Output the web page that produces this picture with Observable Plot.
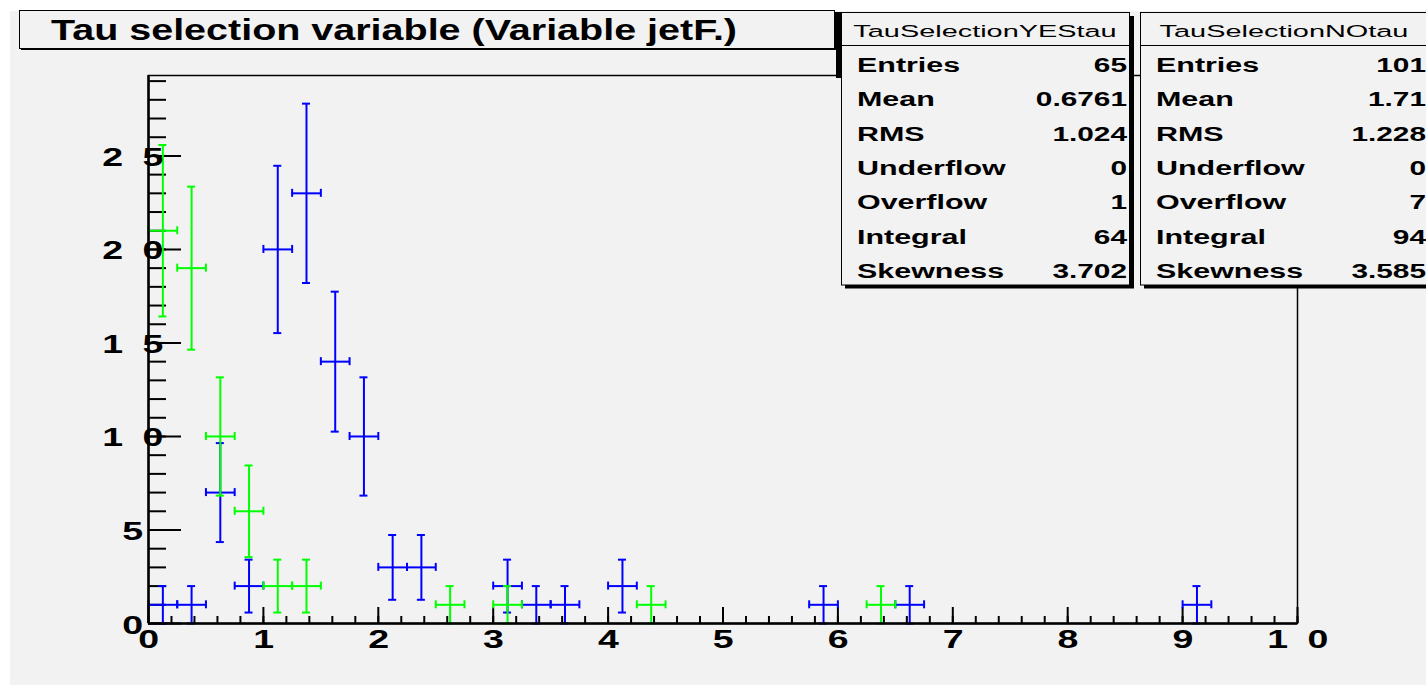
<!DOCTYPE html>
<html><head><meta charset="utf-8">
<script src="https://cdn.jsdelivr.net/npm/d3@7"></script>
<script src="https://cdn.jsdelivr.net/npm/@observablehq/plot@0.6"></script>
<style>
html,body{margin:0;padding:0;background:#fff;overflow:hidden;}
#chart svg{display:block;}
</style></head><body><div id="chart"></div>
<script>
// ---- data ----
const binWidth = 0.25;
const noTauX      = [0.125,0.375,0.625,0.875,1.125,1.375,1.625,1.875,2.125,2.375,3.125,3.375,3.625,4.125,5.875,6.625,9.125];
const noTauCounts = [1,1,7,2,20,23,14,10,3,3,2,1,1,2,1,1,1];
const yesTauX      = [0.125,0.375,0.625,0.875,1.125,1.375,2.625,3.125,4.375,6.375];
const yesTauCounts = [21,19,10,6,2,2,1,1,1,1];
const xMajorTicks = [0,1,2,3,4,5,6,7,8,9,10];
const yMajorTicks = [0,5,10,15,20,25];
const xMinorTicks = d3.range(0, 10.001, 0.2);
const yMinorTicks = d3.range(0, 30, 1);
const yMax = 29.3;
const titleText = "Tau selection variable (Variable jetF.)";
const statLabels = ["Entries","Mean","RMS","Underflow","Overflow","Integral","Skewness"];
const yesName = "TauSelectionYEStau";
const yesStats = ["65","0.6761","1.024","0","1","64","3.702"];
const noName = "TauSelectionNOtau";
const noStats = ["101","1.71","1.228","0","7","94","3.585"];

const FONT = '"Liberation Sans", Arial, Helvetica, sans-serif';
const BLUE = "#0000ff", GREEN = "#00ff00", BG = "#f2f2f2";

const toRecords = (xs, ns) => xs.map((x, i) => ({x, n: ns[i], e: Math.sqrt(ns[i])}));
const noData = toRecords(noTauX, noTauCounts);
const yesData = toRecords(yesTauX, yesTauCounts);

function errorMarks(data, color) {
  const hw = binWidth / 2;
  const vcaps = data.flatMap(d => [{x: d.x, y: d.n - d.e}, {x: d.x, y: d.n + d.e}]);
  const hcaps = data.flatMap(d => [{x: d.x - hw, y: d.n}, {x: d.x + hw, y: d.n}]);
  const s = {stroke: color, strokeWidth: 2};
  return [
    Plot.ruleX(data, {x: "x", y1: d => d.n - d.e, y2: d => d.n + d.e, ...s}),
    Plot.ruleY(data, {y: "n", x1: d => d.x - hw, x2: d => d.x + hw, ...s}),
    Plot.ruleY(vcaps, {y: "y", x1: "x", x2: "x", insetLeft: -4, insetRight: -4, ...s}),
    Plot.ruleX(hcaps, {x: "x", y1: "y", y2: "y", insetTop: -4, insetBottom: -4, ...s})
  ];
}

const chart = Plot.plot({
  width: 1426, height: 685,
  marginLeft: 148, marginRight: 129, marginTop: 75, marginBottom: 62,
  style: {background: "transparent", fontFamily: FONT},
  x: {domain: [0, 10], axis: null},
  y: {domain: [0, yMax], axis: null},
  marks: [
    Plot.ruleY(yMinorTicks, {y: d => d, x1: 0, x2: 0, insetRight: -18, stroke: "black", strokeWidth: 2}),
    Plot.ruleY(yMajorTicks, {y: d => d, x1: 0, x2: 0, insetRight: -33, stroke: "black", strokeWidth: 2}),
    Plot.ruleX(xMinorTicks, {x: d => d, y1: 0, y2: 0, insetTop: -7, stroke: "black", strokeWidth: 2}),
    Plot.ruleX(xMajorTicks, {x: d => d, y1: 0, y2: 0, insetTop: -16, stroke: "black", strokeWidth: 2}),
    ...errorMarks(noData, BLUE),
    ...errorMarks(yesData, GREEN),
    Plot.frame({stroke: "black", strokeWidth: 1.5}),
    Plot.ruleX([0], {stroke: "black", strokeWidth: 2.5}),
    Plot.ruleY([0], {stroke: "black", strokeWidth: 2.5}),
    Plot.text(yMajorTicks, {y: d => d, frameAnchor: "left", dx: -6, dy: 2, text: d => String(d),
      textAnchor: "middle", fontSize: 25, fontWeight: "bold", fill: "black"}),
    Plot.text(xMajorTicks, {x: d => d, frameAnchor: "bottom", dx: 10, dy: 7, lineAnchor: "top", text: d => String(d),
      textAnchor: "middle", fontSize: 25, fontWeight: "bold", fill: "black"})
  ]
});
document.getElementById("chart").appendChild(chart);

const svg = d3.select(chart);
svg.insert("rect", ":first-child").attr("x", 10).attr("y", 11).attr("width", 1416).attr("height", 674).attr("fill", BG);
// ROOT-like wide, spaced tick labels (all Plot texts are tick labels)
svg.selectAll("text").each(function() {
  const t = this.getAttribute("transform");
  if (t && t.includes("translate")) {
    this.setAttribute("transform", t + " scale(1.5,1)");
  } else {
    const x = parseFloat(this.getAttribute("x")) || 0, y = parseFloat(this.getAttribute("y")) || 0;
    this.removeAttribute("x"); this.removeAttribute("y");
    this.setAttribute("transform", `translate(${x},${y}) scale(1.5,1)`);
  }
  this.setAttribute("letter-spacing", "13");
});

const ann = svg.append("g").attr("font-family", FONT).attr("fill", "black").attr("text-anchor", "start");

// title box
ann.append("rect").attr("x", 21).attr("y", 12).attr("width", 815).attr("height", 38).attr("fill", "black");
ann.append("rect").attr("x", 19.5).attr("y", 10.5).attr("width", 815).attr("height", 38).attr("fill", BG).attr("stroke", "black");
ann.append("text").attr("x", 51).attr("y", 40).attr("font-size", 29).attr("font-weight", "bold")
  .attr("text-anchor", "start").attr("textLength", 686).attr("lengthAdjust", "spacingAndGlyphs").text(titleText);

// thick bar left of first stats box
ann.append("rect").attr("x", 836).attr("y", 12).attr("width", 5).attr("height", 66).attr("fill", "black");

function statsBox(left, name, values) {
  const w = 288, top = 12.5, h = 272.5;
  ann.append("rect").attr("x", left + 4).attr("y", top + 3.5).attr("width", w + 1).attr("height", h).attr("fill", "black");
  ann.append("rect").attr("x", left + 0.5).attr("y", top).attr("width", w).attr("height", h).attr("fill", BG).attr("stroke", "black");
  ann.append("line").attr("x1", left).attr("x2", left + w).attr("y1", 45.5).attr("y2", 45.5).attr("stroke", "black");
  ann.append("text").attr("transform", `translate(${left + w / 2},37) scale(1.7,1)`)
    .attr("text-anchor", "middle").attr("font-size", 17).text(name);
  statLabels.forEach((lab, i) => {
    const yb = 72 + i * 34.3;
    ann.append("text").attr("transform", `translate(${left + 16},${yb}) scale(1.45,1)`)
      .attr("text-anchor", "start").attr("font-size", 21).attr("font-weight", "bold").text(lab);
    ann.append("text").attr("transform", `translate(${left + w - 2},${yb}) scale(1.42,1)`)
      .attr("text-anchor", "end").attr("font-size", 21).attr("font-weight", "bold").text(values[i]);
  });
}
statsBox(841, yesName, yesStats);
statsBox(1140, noName, noStats);
</script></body></html>
